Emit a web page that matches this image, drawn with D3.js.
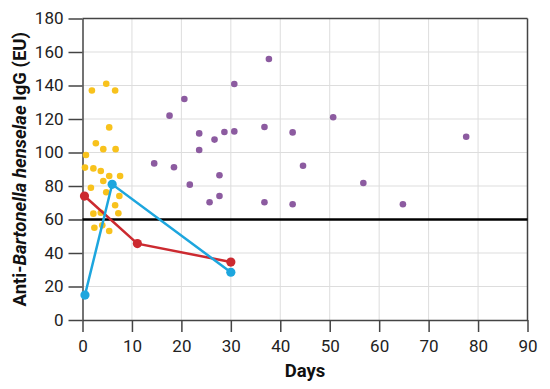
<!DOCTYPE html>
<html>
<head>
<meta charset="utf-8">
<script src="https://cdn.jsdelivr.net/npm/d3@7"></script>
<style>
html,body{margin:0;padding:0;background:#fff;}
svg{display:block;font-family:Roboto, "Noto Sans", sans-serif;}
</style>
</head>
<body>
<svg id="chart" width="550" height="389"></svg>
<script>
// ---- Data ----
const xTicks = [0,10,20,30,40,50,60,70,80,90];
const yTicks = [0,20,40,60,80,100,120,140,160,180];
const threshold = 60;

// yellow group: [day, IgG]
const yellowDays = [1.9,4.8,6.6,5.4,2.7,4.2,6.7,0.7,0.5,2.2,3.7,5.4,7.6,4.2,1.7,4.8,7.45,6.6,7.25,2.2,3.7,2.4,4.0,5.4];
const yellowVals = [137,141,137,115,105.5,102,102,98.5,91,90.5,89,86,86,83,79,76.3,74,68.5,63.7,63.5,64,55.1,56.5,53.1];

// purple group
const purpleDays = [14.5,17.6,18.5,20.6,21.7,23.6,23.6,25.7,26.7,27.7,27.7,28.7,30.7,30.7,36.8,36.8,37.7,42.5,42.5,44.6,50.7,56.8,64.8,77.6];
const purpleVals = [93.5,122,91.2,131.9,80.8,111.4,101.5,70.3,107.7,86.4,74,112.2,140.9,112.6,115.2,70.3,155.8,112,69.1,92.1,121,81.8,69.1,109.4];

// red patient series
const redDays = [0.4,11.1,30.0];
const redVals = [74,45.6,34.6];

// blue patient series
const blueDays = [0.5,6.0,30.0];
const blueVals = [14.9,81,28.5];

// ---- Chart ----
const svg = d3.select("#chart");
const m = {left:82.5, right:527.5, top:18.5, bottom:320};
const x = d3.scaleLinear().domain([0,90]).range([m.left, m.right]);
const y = d3.scaleLinear().domain([0,180]).range([m.bottom, m.top]);

// grid
const g = svg.append("g");
g.selectAll(".vg").data(xTicks.filter(d=>d>0 && d<90)).enter().append("line")
  .attr("x1",d=>x(d)).attr("x2",d=>x(d)).attr("y1",y(0)).attr("y2",y(180))
  .attr("stroke","#dddddd").attr("stroke-width",1);
g.selectAll(".hg").data(yTicks.filter(d=>d>0 && d<180)).enter().append("line")
  .attr("y1",d=>y(d)).attr("y2",d=>y(d)).attr("x1",x(0)).attr("x2",x(90))
  .attr("stroke","#dddddd").attr("stroke-width",1);

// frame (top and right)
svg.append("line").attr("x1",x(0)).attr("x2",x(90)).attr("y1",y(180)).attr("y2",y(180))
  .attr("stroke","#444").attr("stroke-width",1.5);
svg.append("line").attr("x1",x(90)).attr("x2",x(90)).attr("y1",y(0)).attr("y2",y(180))
  .attr("stroke","#444").attr("stroke-width",1.5);

// axes
const xAxis = svg.append("g").attr("transform",`translate(0,${y(0)})`)
  .call(d3.axisBottom(x).tickValues(xTicks).tickSize(12).tickPadding(8).tickSizeOuter(0));
const yAxis = svg.append("g").attr("transform",`translate(${x(0)},0)`)
  .call(d3.axisLeft(y).tickValues(yTicks).tickSize(14).tickPadding(5).tickSizeOuter(0));
[xAxis,yAxis].forEach(a=>{
  a.select(".domain").attr("stroke","#444").attr("stroke-width",1.5);
  a.selectAll(".tick line").attr("stroke","#444").attr("stroke-width",1.5);
  a.selectAll(".tick text").attr("font-family","Roboto").attr("font-size",17).attr("fill","#222");
});

// scatter points
svg.append("g").selectAll("circle").data(yellowDays.map((d,i)=>[d,yellowVals[i]])).enter()
  .append("circle").attr("cx",d=>x(d[0])).attr("cy",d=>y(d[1])).attr("r",3.3).attr("fill","#F8C21C");
svg.append("g").selectAll("circle").data(purpleDays.map((d,i)=>[d,purpleVals[i]])).enter()
  .append("circle").attr("cx",d=>x(d[0])).attr("cy",d=>y(d[1])).attr("r",3.3).attr("fill","#8C5BA0");

// threshold line
svg.append("line").attr("x1",x(0)).attr("x2",x(90)).attr("y1",y(threshold)).attr("y2",y(threshold))
  .attr("stroke","#000").attr("stroke-width",2.5);

// patient lines
const line = d3.line().x(d=>x(d[0])).y(d=>y(d[1]));
function series(days, vals, color){
  const data = days.map((d,i)=>[d,vals[i]]);
  const gg = svg.append("g");
  gg.append("path").datum(data).attr("d",line).attr("fill","none").attr("stroke",color).attr("stroke-width",2.5);
  gg.selectAll("circle").data(data).enter().append("circle")
    .attr("cx",d=>x(d[0])).attr("cy",d=>y(d[1])).attr("r",4.6).attr("fill",color);
}
series(redDays, redVals, "#CC2A30");
series(blueDays, blueVals, "#1DA6DE");

// axis titles
svg.append("text").attr("x",(m.left+m.right)/2).attr("y",377).attr("text-anchor","middle")
  .attr("font-family","Roboto").attr("font-weight","bold").attr("font-size",18.5).attr("fill","#111").text("Days");
const yl = svg.append("text").attr("transform",`translate(26,${(m.top+m.bottom)/2}) rotate(-90)`)
  .attr("text-anchor","middle").attr("font-family","Roboto").attr("font-weight","bold").attr("font-size",18.5).attr("fill","#111");
yl.append("tspan").text("Anti-");
yl.append("tspan").attr("font-style","italic").text("Bartonella henselae");
yl.append("tspan").text(" IgG (EU)");
</script>
</body>
</html>
